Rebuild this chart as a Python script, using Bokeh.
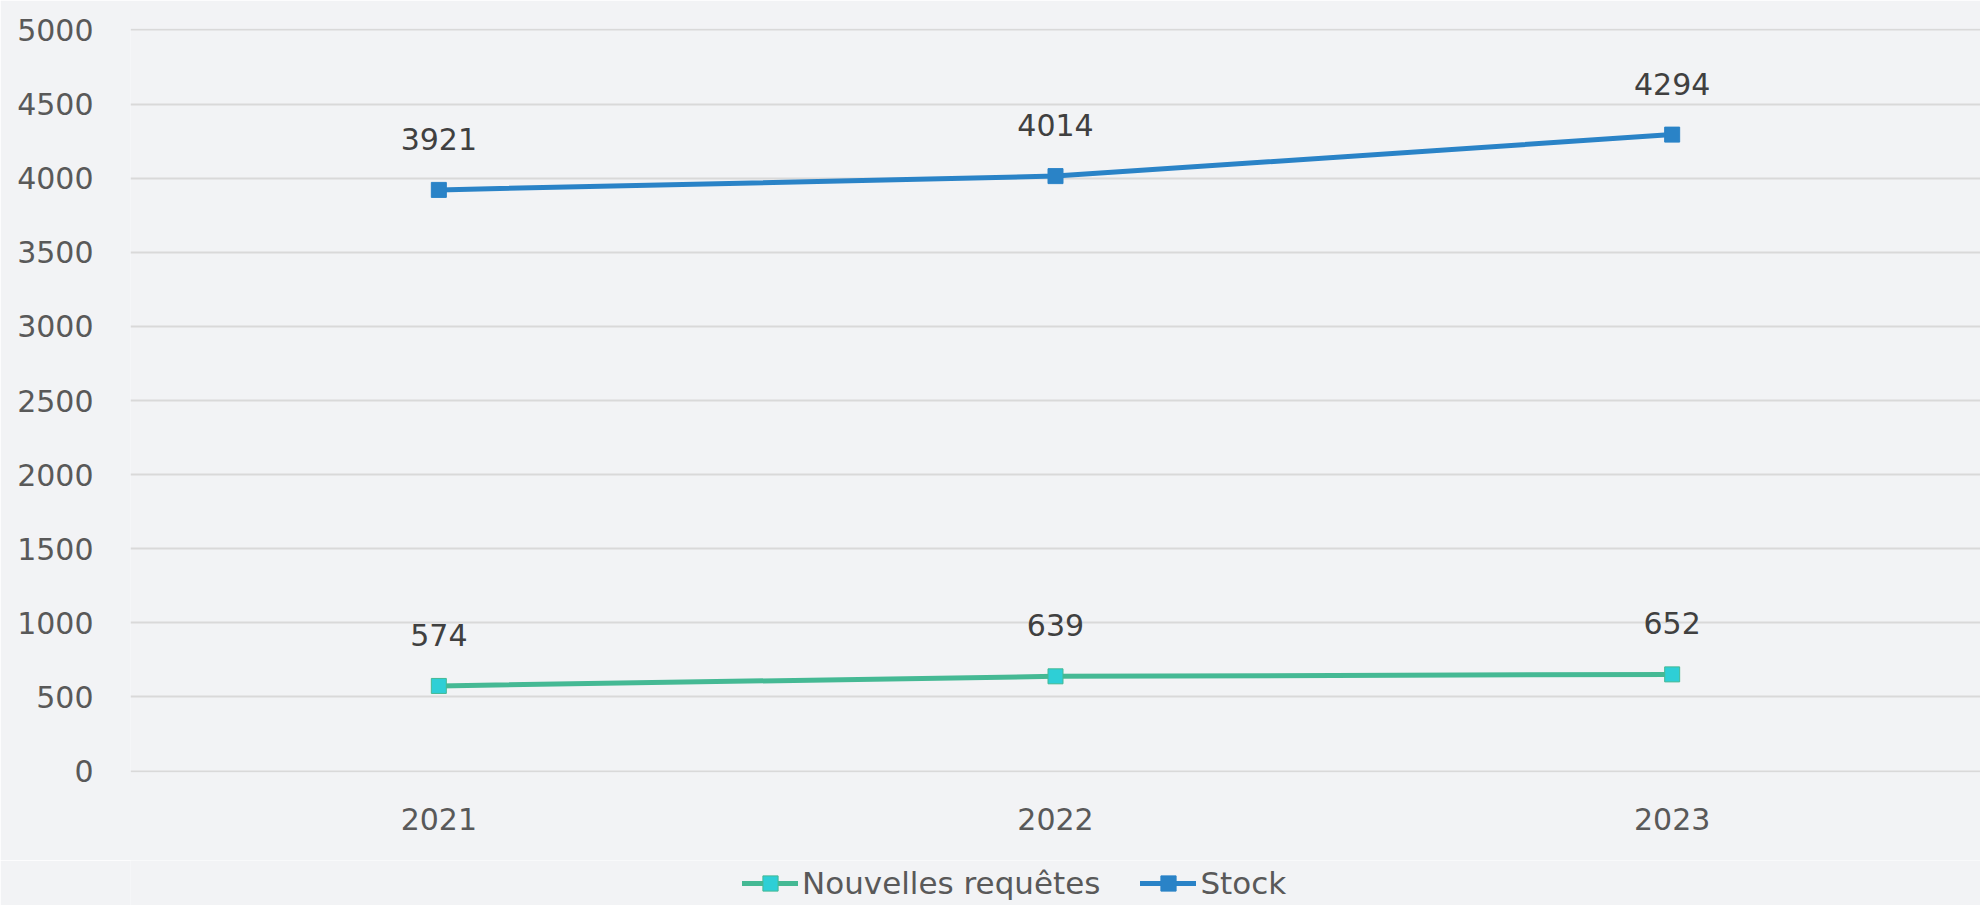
from bokeh.plotting import figure
from bokeh.layouts import column
from bokeh.models import ColumnDataSource, Legend, LegendItem, FixedTicker, Range1d
from bokeh.embed import file_html
from bokeh.resources import INLINE
from bokeh.core.properties import value

years = ["2021", "2022", "2023"]
nouvelles = [574, 639, 652]
stock = [3921, 4014, 4294]
y_ticks = [0, 500, 1000, 1500, 2000, 2500, 3000, 3500, 4000, 4500, 5000]
series_names = ["Nouvelles requêtes", "Stock"]

BG = "#F2F3F5"
GREEN = "#45B994"
CYAN = "#2ECFD6"
BLUE = "#2A83C7"
FONT = "DejaVu Sans"

p = figure(x_range=years, y_range=Range1d(-10, 5010), width=1980, height=860,
           output_backend="svg", toolbar_location=None,
           background_fill_color=BG, border_fill_color=BG,
           min_border_left=130, min_border_right=0, min_border_top=28, min_border_bottom=88)
p.outline_line_color = None

src_n = ColumnDataSource(dict(x=years, y=nouvelles, lbl=[str(v) for v in nouvelles]))
src_s = ColumnDataSource(dict(x=years, y=stock, lbl=[str(v) for v in stock]))

p.line("x", "y", source=src_n, line_color=GREEN, line_width=5)
p.scatter("x", "y", source=src_n, marker="square", size=15, fill_color=CYAN, line_color=GREEN, line_width=1)
p.line("x", "y", source=src_s, line_color=BLUE, line_width=5)
p.scatter("x", "y", source=src_s, marker="square", size=15, fill_color=BLUE, line_color=BLUE, line_width=1)

for src in (src_n, src_s):
    p.text("x", "y", text="lbl", source=src, text_font=value(FONT), text_font_size="30px",
           text_color="#404040", text_align="center", text_baseline="middle", y_offset=-51)

p.xgrid.grid_line_color = None
p.ygrid.grid_line_color = "#D9D9D9"
p.ygrid.grid_line_width = 2
p.yaxis.ticker = FixedTicker(ticks=y_ticks)

for ax in (p.xaxis, p.yaxis):
    ax.axis_line_color = None
    ax.major_tick_line_color = None
    ax.minor_tick_line_color = None
    ax.major_tick_out = 0
    ax.major_tick_in = 0
    ax.major_label_text_font = FONT
    ax.major_label_text_font_size = "30px"
    ax.major_label_text_color = "#595959"
p.yaxis.major_label_standoff = 37
p.xaxis.major_label_standoff = 35

# legend strip below the chart (proxy renderers lie outside the visible range)
lf = figure(width=1980, height=45, x_range=Range1d(0, 1), y_range=Range1d(0, 1),
            output_backend="svg", toolbar_location=None,
            background_fill_color=BG, border_fill_color=BG,
            min_border_left=0, min_border_right=0, min_border_top=0, min_border_bottom=0)
lf.outline_line_color = None
lf.axis.visible = False
lf.grid.visible = False
proxy = ColumnDataSource(dict(x=[-5, -4], y=[-5, -4]))
ln = lf.line("x", "y", source=proxy, line_color=GREEN, line_width=5, line_cap="round")
mn = lf.scatter("x", "y", source=proxy, marker="square", size=15, fill_color=CYAN, line_color=GREEN, line_width=1)
ls = lf.line("x", "y", source=proxy, line_color=BLUE, line_width=5, line_cap="round")
ms = lf.scatter("x", "y", source=proxy, marker="square", size=15, fill_color=BLUE, line_color=BLUE, line_width=1)

legend = Legend(items=[LegendItem(label=series_names[0], renderers=[ln, mn]),
                       LegendItem(label=series_names[1], renderers=[ls, ms])],
                orientation="horizontal", location=(612, 3),
                label_text_font=FONT, label_text_font_size="31px", label_text_color="#595959",
                glyph_width=56, glyph_height=38, label_standoff=4, spacing=40,
                padding=0, margin=0,
                background_fill_alpha=0, border_line_color=None)
lf.add_layout(legend)

layout = column(p, lf, spacing=0)
open("out.html", "w").write(file_html(layout, INLINE))
